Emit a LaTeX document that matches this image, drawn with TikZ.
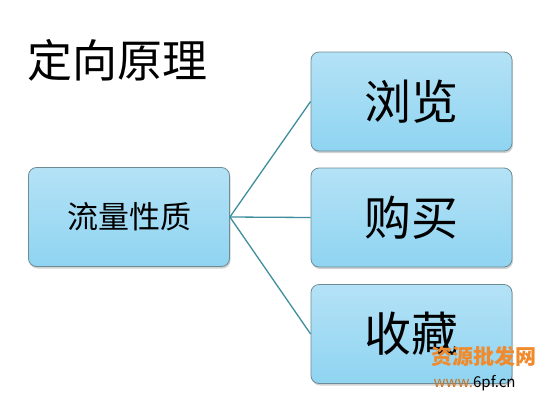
\documentclass[tikz,border=0pt]{standalone}
\usepackage{fontspec}
\setmainfont{Noto Sans CJK SC}
\newfontfamily\cjk{Noto Sans CJK SC}
\usetikzlibrary{shadows}
\definecolor{boxtop}{HTML}{B4E2F6}
\definecolor{boxmid}{HTML}{CBEBF9}
\definecolor{boxbot}{HTML}{8FD4F1}
\definecolor{boxedge}{HTML}{6E8C96}
\definecolor{linkc}{HTML}{3F8E9E}
\definecolor{wmorange}{HTML}{F08A2C}
\tikzset{
  catbox/.style={draw=boxedge, line width=0.8pt, rounded corners=8pt,
    minimum width=201pt, minimum height=99pt, inner sep=0pt,
    top color=boxtop, middle color=boxmid, bottom color=boxbot,
    drop shadow={shadow xshift=1pt, shadow yshift=-2pt, opacity=0.35, fill=gray}},
  link/.style={draw=linkc, line width=1.3pt},
}
\begin{document}
\begin{tikzpicture}[x=1pt,y=-1pt]
\useasboundingbox (0,0) rectangle (545,402);
\fill[white] (0,0) rectangle (545,402);
\node[anchor=west, font=\cjk\fontsize{45}{49}\selectfont] (title) at (24,60) {定向原理};
\node[catbox, font=\cjk\fontsize{31}{34}\selectfont] (src) at (129,217) {流量性质};
\node[catbox, font=\cjk\fontsize{47}{50}\selectfont] (b1) at (411.5,101.5) {浏览};
\node[catbox, font=\cjk\fontsize{47}{50}\selectfont] (b2) at (411.5,217.5) {购买};
\node[catbox, font=\cjk\fontsize{47}{50}\selectfont] (b3) at (411.5,334) {收藏};
\draw[link] (src.east) -- (b1.west);
\draw[link] (src.east) -- (b2.west);
\draw[link] (src.east) -- (b3.west);
\node[anchor=west, text=wmorange, font=\cjk\bfseries\fontsize{21}{23}\selectfont] (wm1) at (428,356) {资源批发网};
\node[anchor=west, text=wmorange!85!black, font=\cjk\fontsize{15}{17}\selectfont] (wm2) at (430,383) {www.\textcolor{black}{6pf.cn}};
\end{tikzpicture}
\end{document}
